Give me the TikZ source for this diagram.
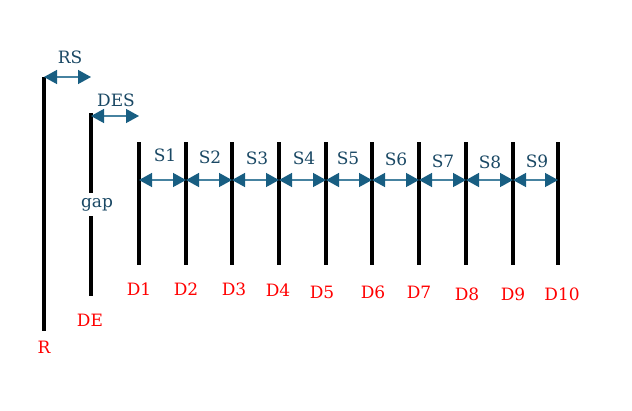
\documentclass[tikz,border=0pt]{standalone}
\usepackage{fontspec}
\setmainfont{DejaVu Serif}
\usetikzlibrary{arrows.meta}
\definecolor{arrowblue}{RGB}{24,94,130}
\definecolor{shaftblue}{RGB}{70,130,160}
\definecolor{labelblue}{RGB}{26,72,100}
\tikzset{
  bar/.style={line width=3.4pt, black},
  dimarrow/.style={shaftblue, line width=1.4pt, {Triangle[length=13pt,width=14pt,color=arrowblue]}-{Triangle[length=13pt,width=14pt,color=arrowblue]}},
  lbl/.style={text=labelblue, font=\fontsize{17}{19}\selectfont, inner sep=0pt},
  rlbl/.style={text=red, font=\fontsize{17}{19}\selectfont, inner sep=0pt}
}
\begin{document}
\begin{tikzpicture}[x=1pt,y=-1pt]
\useasboundingbox (0,0) rectangle (632,410);
% R line
\coordinate (Rt) at (44,77);
\coordinate (Rb) at (44,331);
\draw[bar] (Rt) -- (Rb);
\node[rlbl] (Rl) at (44,347) {R};
% DE line with gap
\coordinate (DEt) at (91,113);
\coordinate (DEb) at (91,296);
\node[lbl] (gap) at (97,205) {gap};
\draw[bar] (DEt) -- (91,193);
\draw[bar] (91,216) -- (DEb);
\node[rlbl] (DEl) at (90,320) {DE};
% RS and DES
\coordinate (RSa) at (44,77);
\coordinate (RSb) at (91,77);
\draw[dimarrow] (RSa) -- (RSb);
\node[lbl] (RS) at (70,57) {RS};
\coordinate (DESa) at (91,116);
\coordinate (DESb) at (139,116);
\draw[dimarrow] (DESa) -- (DESb);
\node[lbl] (DES) at (116,100) {DES};
% D lines
\foreach \i/\x in {1/139,2/186,3/232,4/279,5/326,6/372,7/419,8/466,9/513,10/558}{
  \coordinate (D\i t) at (\x,142);
  \coordinate (D\i b) at (\x,265);
  \coordinate (D\i m) at (\x,180);
  \draw[bar] (D\i t) -- (D\i b);
}
\foreach \i/\x/\ly in {1/139/289,2/186/289,3/234/289,4/278/290,5/322/292,6/373/292,7/419/292,8/467/294,9/513/294,10/562/294}{
  \node[rlbl] (D\i l) at (\x,\ly) {D\i};
}
\foreach \i/\j/\x/\y in {1/2/165/155,2/3/210/157,3/4/257/158,4/5/304/158,5/6/348/158,6/7/396/159,7/8/443/161,8/9/490/162,9/10/537/161}{
  \draw[dimarrow] (D\i m) -- (D\j m);
  \node[lbl] (S\i) at (\x,\y) {S\i};
}
\end{tikzpicture}
\end{document}
